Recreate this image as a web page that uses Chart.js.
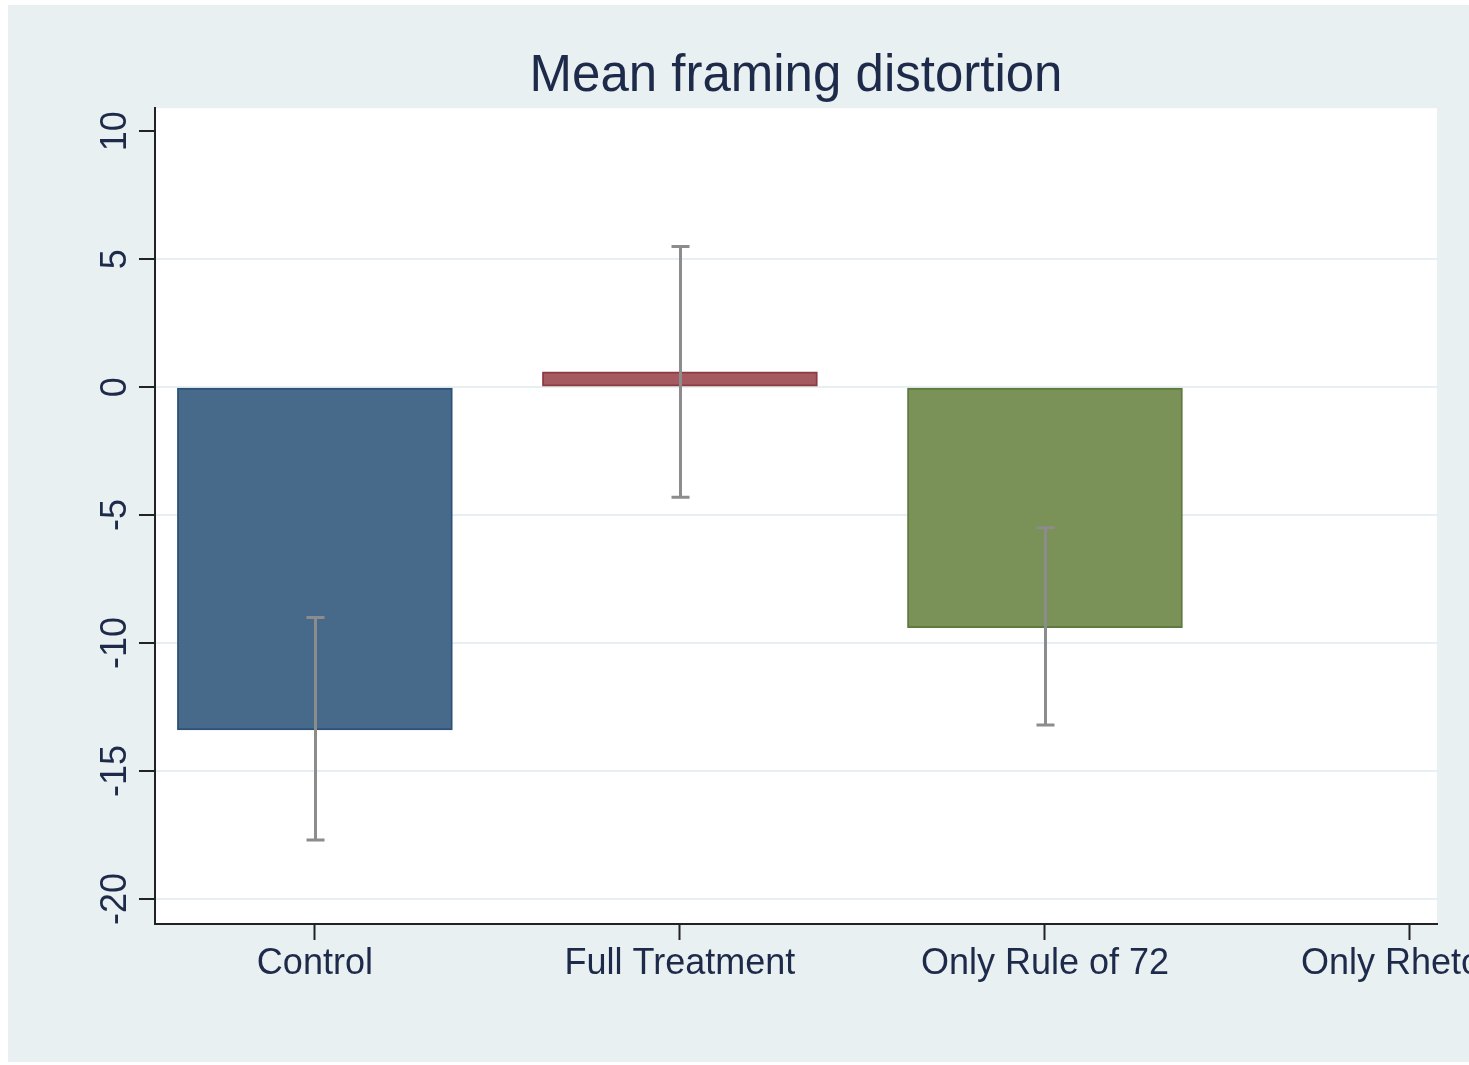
<!DOCTYPE html>
<html>
<head>
<meta charset="utf-8">
<title>Mean framing distortion</title>
<script src="https://cdn.jsdelivr.net/npm/chart.js@4/dist/chart.umd.min.js"></script>
<style>
  html, body { margin: 0; padding: 0; background: #ffffff; }
  body { width: 1469px; height: 1065px; position: relative; overflow: hidden; }
  #frame {
    position: absolute; left: 8px; top: 5px; width: 1461px; height: 1057px;
    background: #e8f0f2;
  }
  #frame canvas { position: absolute; left: 0; top: 0; }
</style>
</head>
<body>
<div id="frame"><canvas id="chart" width="1461" height="1057"></canvas></div>
<script>
// Groups on the horizontal axis (the last one has no bar in view)
const categories = ['Control', 'Full Treatment', 'Only Rule of 72', 'Only Rhetoric'];
// Mean framing distortion per group
const means = [-13.4, 0.6, -9.4];
// 95% confidence interval bounds per group
const ciLow = [-17.7, -4.3, -13.2];
const ciHigh = [-9.0, 5.5, -5.5];
// Value-axis tick labels
const yTicks = [-20, -15, -10, -5, 0, 5, 10];

const barFill = ['#486a8a', '#a45a5f', '#7a9157'];
const barEdge = ['#2e5277', '#8e3a42', '#5f7a3e'];

// Whiskers for the confidence intervals, placed through the chart's scales
const ciWhiskers = {
  id: 'ciWhiskers',
  afterDatasetsDraw(chart) {
    const { ctx, scales: { x, y } } = chart;
    ctx.save();
    ctx.strokeStyle = '#8c8c8c';
    ctx.lineWidth = 3;
    ctx.lineCap = 'butt';
    for (let i = 0; i < means.length; i++) {
      const px = Math.round(x.getPixelForValue(i)) + 0.5;
      const top = y.getPixelForValue(ciHigh[i]);
      const bot = y.getPixelForValue(ciLow[i]);
      ctx.beginPath();
      ctx.moveTo(px, top); ctx.lineTo(px, bot);
      ctx.moveTo(px - 9, top); ctx.lineTo(px + 9, top);
      ctx.moveTo(px - 9, bot); ctx.lineTo(px + 9, bot);
      ctx.stroke();
    }
    ctx.restore();
  }
};

// White plotting region
const plotBackground = {
  id: 'plotBackground',
  beforeDraw(chart) {
    const { ctx, chartArea: a } = chart;
    ctx.save();
    ctx.fillStyle = '#ffffff';
    ctx.fillRect(a.left, a.top, a.right - a.left, a.bottom - a.top);
    ctx.restore();
  }
};

const font = "'Liberation Sans', Arial, Helvetica, sans-serif";

new Chart(document.getElementById('chart'), {
  type: 'bar',
  data: {
    datasets: [{
      data: means.map((v, i) => ({ x: i, y: v })),
      backgroundColor: barFill,
      borderColor: barEdge,
      borderWidth: 2,
      borderSkipped: false,
      barThickness: 275
    }]
  },
  options: {
    responsive: false,
    animation: false,
    events: [],
    layout: { padding: { left: 0, right: 32, top: 0, bottom: 0 } },
    plugins: {
      legend: { display: false },
      tooltip: { enabled: false },
      title: {
        display: true,
        text: 'Mean framing distortion',
        fullSize: false,
        color: '#1e2a4a',
        font: { family: font, size: 51, weight: 'normal', lineHeight: 1.2 },
        padding: { top: 41, bottom: 1 }
      }
    },
    scales: {
      x: {
        type: 'linear',
        offset: false,
        min: -0.438,
        max: 3.074,
        afterBuildTicks(s) { s.ticks = categories.map((c, i) => ({ value: i })); },
        afterFit(s) { s.height = 138; s.paddingLeft = 0; s.paddingRight = 0; },
        ticks: {
          callback: (v) => categories[v],
          color: '#1e2a4a',
          font: { family: font, size: 36 },
          padding: 2,
          maxRotation: 0,
          minRotation: 0,
          autoSkip: false
        },
        grid: {
          offset: false,
          drawOnChartArea: false,
          drawTicks: true,
          tickLength: 16,
          tickWidth: 2,
          tickColor: '#222222'
        },
        border: { display: true, color: '#222222', width: 2 }
      },
      y: {
        type: 'linear',
        min: -20.98,
        max: 10.9,
        afterBuildTicks(s) { s.ticks = yTicks.map(v => ({ value: v })); },
        afterFit(s) { s.width = 147; },
        ticks: {
          color: '#1e2a4a',
          font: { family: font, size: 36 },
          minRotation: 90,
          maxRotation: 90,
          crossAlign: 'center',
          padding: -3
        },
        grid: {
          color: (c) => (c.tick && c.tick.value === 10) ? 'rgba(0,0,0,0)' : '#e6eff1',
          lineWidth: 2,
          drawTicks: true,
          tickLength: 16,
          tickWidth: 2,
          tickColor: '#222222'
        },
        border: { display: true, color: '#222222', width: 2 }
      }
    }
  },
  plugins: [plotBackground, ciWhiskers]
});
</script>
</body>
</html>
